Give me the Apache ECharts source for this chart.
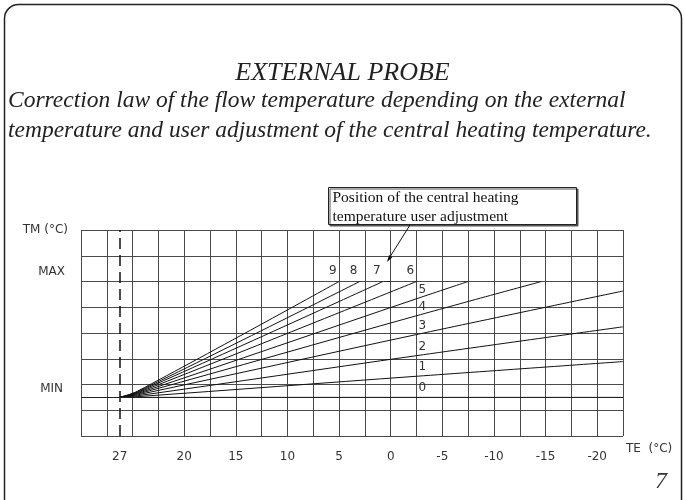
<!DOCTYPE html>
<html>
<head>
<meta charset="utf-8">
<title>External probe</title>
<script src="https://cdn.jsdelivr.net/npm/echarts@6/dist/echarts.min.js"></script>
<style>
  html, body { margin: 0; padding: 0; background: #fff; }
  #chart { width: 685px; height: 500px; }
</style>
</head>
<body>
<div id="chart"></div>
<script>
// titles
const titleMain = 'EXTERNAL PROBE'
const titleLines = [
  'Correction law of the flow temperature depending on the external',
  'temperature and user adjustment of the central heating temperature.'
]
const noteLines = ['Position of the central heating', 'temperature user adjustment']
const pageNo = '7'

// TE axis (inverted, one column = 2.5 °C)
const teTicks = [20, 15, 10, 5, 0, -5, -10, -15, -20]
const teOrigin = 26.25      // where the dashed line sits on the drawing
const teOriginLabel = '27'
// TM axis (schematic)
const tmMin = 1.5
const tmMax = 6
const tmTop = 8

// curves, [TE, TM]
const curve9 = [[26.25, 1.5], [24.5, 1.745], [5, 6]]
const curve8 = [[26.25, 1.5], [24.5, 1.725], [3, 6]]
const curve7 = [[26.25, 1.5], [24.5, 1.705], [0.75, 6]]
const curve6 = [[26.25, 1.5], [24.5, 1.68], [-2.5, 6]]
const curve5 = [[26.25, 1.5], [24.5, 1.655], [-2.5, 5.33], [-7.5, 6]]
const curve4 = [[26.25, 1.5], [24.5, 1.63], [-2.5, 4.67], [-14.6, 6]]
const curve3 = [[26.25, 1.5], [24.5, 1.6], [-2.5, 3.94], [-22.5, 5.63]]
const curve2 = [[26.25, 1.5], [24.5, 1.565], [-2.5, 3.12], [-22.5, 4.24]]
const curve1 = [[26.25, 1.5], [24.5, 1.53], [-2.5, 2.32], [-22.5, 2.89]]
const curve0 = [[26.25, 1.5], [-2.5, 1.5], [-22.5, 1.5]]

const curves = [
  { name: '9', data: curve9, at: 'end' },
  { name: '8', data: curve8, at: 'end' },
  { name: '7', data: curve7, at: 'end' },
  { name: '6', data: curve6, at: 'end' },
  { name: '5', data: curve5, at: -2.5 },
  { name: '4', data: curve4, at: -2.5 },
  { name: '3', data: curve3, at: -2.5 },
  { name: '2', data: curve2, at: -2.5 },
  { name: '1', data: curve1, at: -2.5 },
  { name: '0', data: curve0, at: -2.5 }
]

const axisFont = 'DejaVu Sans'
const serif = 'Liberation Serif'
const gridColor = '#4a4a4a'

const chart = echarts.init(document.getElementById('chart'))

const series = curves.map(function (c, idx) {
  const last = c.data.length - 1
  const data = c.data.map(function (p, i) {
    let lbl = null
    if (c.at === 'end' && i === last) {
      lbl = { show: true, position: [-10, -17] }
    } else if (c.at !== 'end' && p[0] === c.at) {
      lbl = { show: true, position: [2, -15] }
    }
    return lbl ? { value: p, label: lbl } : { value: p }
  })
  const s = {
    name: c.name,
    type: 'line',
    data: data,
    smooth: 0.35,
    symbol: 'circle',
    symbolSize: 0.1,
    itemStyle: { color: 'rgba(0,0,0,0)', borderWidth: 0 },
    lineStyle: { color: '#111', width: 1 },
    label: {
      show: false,
      formatter: c.name,
      fontFamily: axisFont,
      fontSize: 12,
      color: '#333'
    },
    silent: true,
    animation: false,
    z: 3
  }
  if (idx === 0) {
    s.markLine = {
      silent: true,
      symbol: ['none', 'none'],
      label: { show: false },
      data: [
        { xAxis: teOrigin, lineStyle: { type: [11, 6], color: '#111', width: 1.5 } },
        { yAxis: tmMin, lineStyle: { type: 'solid', color: '#222', width: 1 } }
      ]
    }
  }
  return s
})

const titleStyle = { fontFamily: serif, fontStyle: 'italic', fontWeight: 'normal', fontSize: 23.5, color: '#222' }

chart.setOption({
  animation: false,
  backgroundColor: '#fff',
  title: [
    {
      text: titleMain, left: 'center', top: 55,
      textStyle: Object.assign({}, titleStyle, { fontSize: 26 })
    },
    { text: titleLines[0], left: 3, top: 84, textStyle: titleStyle },
    { text: titleLines[1], left: 3, top: 114, textStyle: titleStyle }
  ],
  grid: { left: 81, right: 62, top: 230, bottom: 64 },
  xAxis: [
    {
      type: 'value', inverse: true, min: -22.5, max: 30, interval: 2.5,
      axisLine: { show: false }, axisTick: { show: false }, axisLabel: { show: false },
      splitLine: { show: true, lineStyle: { color: gridColor, width: 1 } }
    },
    {
      type: 'value', inverse: true, min: -22.5, max: 30, position: 'bottom',
      axisLine: { show: false }, axisTick: { show: false },
      splitLine: { show: false },
      axisLabel: {
        customValues: [teOrigin].concat(teTicks),
        margin: 15,
        fontFamily: axisFont, fontSize: 12, color: '#333',
        formatter: function (v) { return v === teOrigin ? teOriginLabel : String(v) }
      },
      name: 'TE  (°C)', nameLocation: 'start', nameGap: 3,
      nameTextStyle: { fontFamily: axisFont, fontSize: 12, color: '#333', verticalAlign: 'top', padding: [7, 0, 0, 0] }
    }
  ],
  yAxis: [
    {
      type: 'value', min: 0, max: tmTop, interval: 1,
      axisLine: { show: false }, axisTick: { show: false }, axisLabel: { show: false },
      splitLine: { show: true, lineStyle: { color: gridColor, width: 1 } }
    },
    {
      type: 'value', min: 0, max: tmTop, position: 'left',
      axisLine: { show: false },
      axisTick: { show: true, customValues: [tmMin, tmMax], length: 7, lineStyle: { color: '#222', width: 1 } },
      splitLine: { show: false },
      axisLabel: {
        customValues: [tmMin, tmMax, tmTop],
        margin: 13,
        fontFamily: axisFont, fontSize: 12, color: '#333',
        formatter: function (v) {
          if (v === tmTop) return 'TM (°C)'
          if (v === tmMax) return '{mx|MAX}'
          return '{mn|MIN}'
        },
        rich: {
          mx: { fontFamily: axisFont, fontSize: 12, color: '#333', padding: [0, 3, 19, 0] },
          mn: { fontFamily: axisFont, fontSize: 12, color: '#333', padding: [0, 5, 18, 0] }
        }
      }
    }
  ],
  series: series,
  graphic: [
    {
      type: 'rect', silent: true, z: 0,
      shape: { x: 4.5, y: 4.5, width: 677, height: 540, r: 14 },
      style: { fill: 'none', stroke: '#222', lineWidth: 1.5 }
    },
    {
      type: 'group', left: 328, top: 187, z: 10,
      children: [
        {
          type: 'rect',
          shape: { x: 0, y: 0, width: 248, height: 37 },
          style: { fill: '#fff', stroke: '#222', lineWidth: 1, shadowBlur: 0, shadowOffsetX: 1.5, shadowOffsetY: 1.5, shadowColor: '#555' }
        },
        {
          type: 'text', x: 4, y: 10,
          style: { text: noteLines[0], fontFamily: serif, fontSize: 15.5, fill: '#111', verticalAlign: 'middle' }
        },
        {
          type: 'text', x: 4, y: 29,
          style: { text: noteLines[1], fontFamily: serif, fontSize: 15.5, fill: '#111', verticalAlign: 'middle' }
        }
      ]
    },
    {
      type: 'line', z: 10,
      shape: { x1: 410, y1: 225, x2: 388, y2: 260 },
      style: { stroke: '#111', lineWidth: 1 }
    },
    {
      type: 'polygon', z: 10,
      shape: { points: [[387, 262], [392.4, 257.2], [389, 255]] },
      style: { fill: '#111' }
    },
    {
      type: 'text', left: 655, top: 470,
      style: { text: pageNo, fontFamily: serif, fontStyle: 'italic', fontSize: 24, fill: '#333' }
    }
  ]
})
</script>
</body>
</html>
